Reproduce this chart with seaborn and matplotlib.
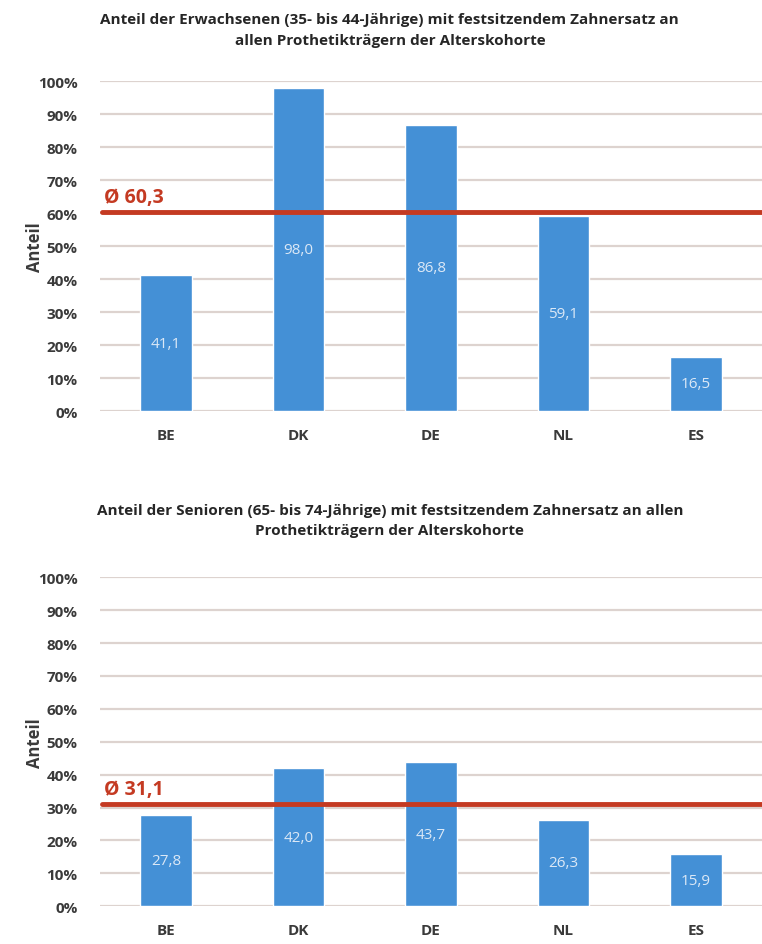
import matplotlib
matplotlib.use("Agg")
import matplotlib.pyplot as plt
import seaborn as sns
import pandas as pd

countries = ["BE", "DK", "DE", "NL", "ES"]
adults = [41.1, 98.0, 86.8, 59.1, 16.5]
adults_avg = 60.3
seniors = [27.8, 42.0, 43.7, 26.3, 15.9]
seniors_avg = 31.1
titles = [
    "Anteil der Erwachsenen (35- bis 44-Jährige) mit festsitzendem Zahnersatz an\nallen Prothetikträgern der Alterskohorte",
    "Anteil der Senioren (65- bis 74-Jährige) mit festsitzendem Zahnersatz an allen\nProthetikträgern der Alterskohorte",
]
y_ticks = [0, 10, 20, 30, 40, 50, 60, 70, 80, 90, 100]

sns.set_theme(style="white")
plt.rcParams["font.family"] = ["Open Sans", "DejaVu Sans"]

BAR = "#4490d6"
GRID = "#ddd3cf"
AVG = "#c43a22"
TEXT = "#3a3a3a"

fig = plt.figure(figsize=(7.62, 9.45), dpi=100)
axes = [fig.add_axes([0.131, 0.564, 0.869, 0.349]),
        fig.add_axes([0.131, 0.040, 0.869, 0.348])]
title_pads = [27, 31]

def fmt(v):
    return f"{v:.1f}".replace(".", ",")

for ax, vals, avg, title, tpad in zip(axes, [adults, seniors],
                                      [adults_avg, seniors_avg], titles, title_pads):
    df = pd.DataFrame({"Land": countries, "Anteil": vals})
    sns.barplot(data=df, x="Land", y="Anteil", color=BAR, saturation=1,
                width=0.39, ax=ax, zorder=2)
    ax.set_xlim(-0.5, 4.5)
    ax.set_ylim(0, 100)
    ax.set_yticks(y_ticks)
    ax.set_yticklabels([f"{t}%" for t in y_ticks])
    ax.grid(axis="y", color=GRID, linewidth=1.6, zorder=0)
    ax.set_axisbelow(True)
    for s in ax.spines.values():
        s.set_visible(False)
    ax.tick_params(axis="both", length=0, labelsize=11, labelcolor=TEXT)
    for lbl in ax.get_xticklabels() + ax.get_yticklabels():
        lbl.set_fontweight("bold")
    ax.tick_params(axis="y", pad=16)
    ax.tick_params(axis="x", pad=12)
    ax.set_xlabel("")
    ax.set_ylabel("Anteil", fontsize=12, fontweight="bold", color=TEXT)
    ax.yaxis.set_label_coords(-0.085, 0.5)
    for i, v in enumerate(vals):
        ax.text(i, v / 2, fmt(v), ha="center", va="center", fontsize=11,
                color="#dbe8f6", zorder=4)
    ax.axhline(avg, xmin=0.004, xmax=1, color=AVG, linewidth=3.5, zorder=3)
    ax.text(-0.47, avg + 1.5, f"Ø {fmt(avg)}", ha="left", va="bottom",
            fontsize=14, fontweight="bold", color=AVG, zorder=4)
    ax.set_title(title, fontsize=11, fontweight="bold", color="#262626",
                 pad=tpad, linespacing=1.6, x=0.438)

fig.savefig("out.png", dpi=100, facecolor="white")
